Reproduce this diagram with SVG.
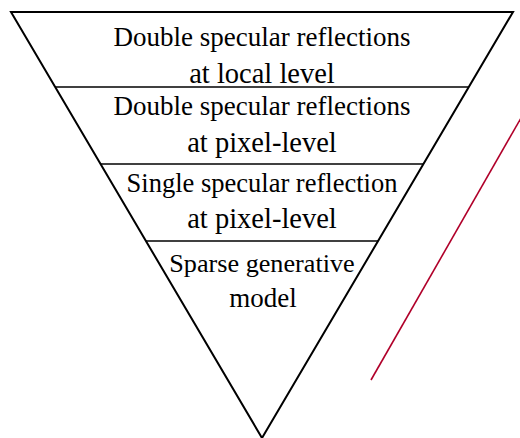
<svg xmlns="http://www.w3.org/2000/svg" width="520" height="438" viewBox="0 0 520 438">
<style>
.t{font-family:"Liberation Serif","Times New Roman",serif;font-size:27px;fill:#000;text-anchor:middle}
.s{font-size:28.5px}
.div{stroke:#000;stroke-width:1.3;fill:none}
</style>
<rect width="520" height="438" fill="#fff"/>
<g id="pyramid">
<polygon points="11,12 513,12 262,438" fill="none" stroke="#000" stroke-width="2"/>
</g>
<g id="connectors">
<line class="div" x1="55" y1="87" x2="469" y2="87"/>
<line class="div" x1="101" y1="164" x2="423" y2="164"/>
<line class="div" x1="146" y1="241" x2="378" y2="241"/>
<line x1="371" y1="380" x2="521" y2="118" stroke="#b0002a" stroke-width="1.6"/>
</g>
<g id="level1">
<text class="t" x="262" y="46">Double specular reflections</text>
<text class="t s" x="262" y="83">at local level</text>
</g>
<g id="level2">
<text class="t" x="262" y="115">Double specular reflections</text>
<text class="t s" x="262" y="152">at pixel-level</text>
</g>
<g id="level3">
<text class="t" x="262" y="192" style="font-size:26.5px">Single specular reflection</text>
<text class="t s" x="262" y="228">at pixel-level</text>
</g>
<g id="level4">
<text class="t" x="262" y="272" style="font-size:26.2px">Sparse generative</text>
<text class="t" x="263" y="307">model</text>
</g>
</svg>
